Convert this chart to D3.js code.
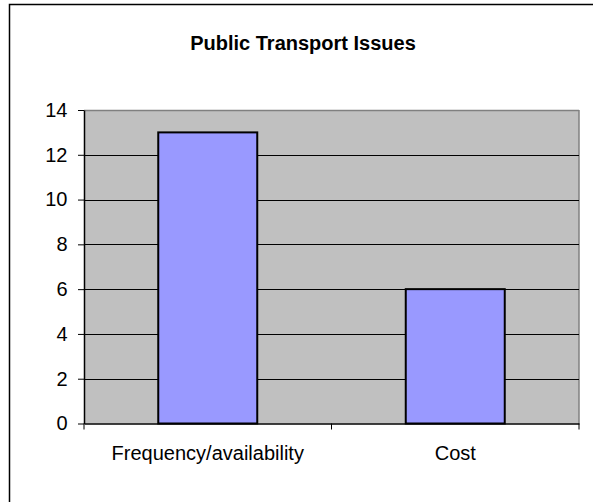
<!DOCTYPE html>
<html><head><meta charset="utf-8">
<script src="https://cdn.jsdelivr.net/npm/d3@7"></script>
<style>body{margin:0;background:#fff}svg{display:block}text{font-family:Arial,"Liberation Sans",sans-serif}</style>
</head><body>
<script>
const title = "Public Transport Issues";
const categories = ["Frequency/availability", "Cost"];
const values = [13, 6];
const yTicks = [0, 2, 4, 6, 8, 10, 12, 14];

const W = 593, H = 502;
const svg = d3.select("body").append("svg").attr("width", W).attr("height", H);

// outer chart border
svg.append("rect").attr("x", 9.5).attr("y", 4.5).attr("width", 700).attr("height", 700)
  .attr("fill", "#fff").attr("stroke", "#000").attr("stroke-width", 1.5);

svg.append("text").attr("x", 303).attr("y", 50).attr("text-anchor", "middle")
  .attr("font-weight", "bold").style("font-size", "20px").text(title);

const L = 84, R = 579, T = 110, B = 423.5;
const x = d3.scaleBand().domain(categories).range([L, R]).padding(0);
const y = d3.scaleLinear().domain([0, 14]).range([B, T]);

// plot area
svg.append("rect").attr("x", L).attr("y", T).attr("width", R - L).attr("height", B - T)
  .attr("fill", "#c0c0c0");
svg.append("line").attr("x1", L).attr("x2", R).attr("y1", T + 0.5).attr("y2", T + 0.5)
  .attr("stroke", "#808080").attr("stroke-width", 1.5);
svg.append("line").attr("x1", R).attr("x2", R).attr("y1", T).attr("y2", B)
  .attr("stroke", "#808080").attr("stroke-width", 1.5);

// gridlines
svg.append("g").selectAll("line").data(yTicks.filter(d => d > 0 && d < 14)).join("line")
  .attr("x1", L).attr("x2", R)
  .attr("y1", d => Math.round(y(d)) + 0.5).attr("y2", d => Math.round(y(d)) + 0.5)
  .attr("stroke", "#000").attr("stroke-width", 1);

// bars
const bw = x.bandwidth() * 0.4;
svg.append("g").selectAll("rect").data(values).join("rect")
  .attr("x", (d, i) => x(categories[i]) + (x.bandwidth() - bw) / 2)
  .attr("y", d => y(d))
  .attr("width", bw)
  .attr("height", d => B - y(d))
  .attr("fill", "#9999ff").attr("stroke", "#000").attr("stroke-width", 2);

// y axis
const yAxis = d3.axisLeft(y).tickValues(yTicks).tickSize(6).tickPadding(10.5).tickSizeOuter(0);
const gy = svg.append("g").attr("transform", `translate(${L},0)`).call(yAxis);
gy.attr("font-size", null);
gy.select(".domain").attr("stroke", "#000").attr("stroke-width", 1.5);
gy.selectAll(".tick line").attr("stroke", "#000");
gy.selectAll(".tick text").style("font-size", "20px").attr("fill", "#000");

// x axis
const xAxis = d3.axisBottom(x).tickSize(0).tickPadding(22.3);
const gx = svg.append("g").attr("transform", `translate(0,${B})`).call(xAxis);
gx.attr("font-size", null);
gx.select(".domain").attr("stroke", "#000").attr("stroke-width", 1.5);
gx.selectAll(".tick text").style("font-size", "20px").attr("fill", "#000");
// category boundary ticks
const bounds = [L, x(categories[1]), R];
svg.append("g").selectAll("line").data(bounds).join("line")
  .attr("x1", d => d).attr("x2", d => d).attr("y1", B).attr("y2", B + 6)
  .attr("stroke", "#000").attr("stroke-width", 1);
</script>
</body></html>
